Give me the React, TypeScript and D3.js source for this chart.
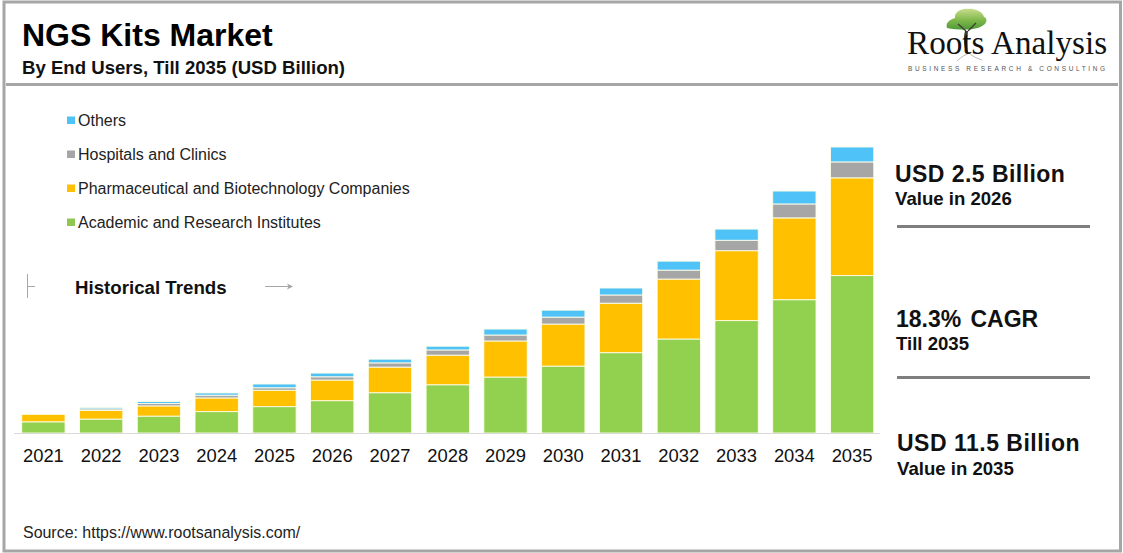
import React from "react";
import * as d3 from "d3";

const years = ["2021","2022","2023","2024","2025","2026","2027","2028","2029","2030","2031","2032","2033","2034","2035"];
const academic = [0.45,0.56,0.68,0.86,1.06,1.30,1.62,1.94,2.25,2.69,3.23,3.78,4.52,5.36,6.33];
const pharma = [0.30,0.35,0.41,0.55,0.66,0.83,1.03,1.19,1.45,1.69,1.99,2.41,2.81,3.29,3.93];
const hospitals = [0,0.06,0.10,0.11,0.10,0.13,0.17,0.21,0.24,0.28,0.33,0.36,0.42,0.56,0.64];
const others = [0,0.06,0.08,0.09,0.15,0.15,0.15,0.15,0.24,0.28,0.28,0.36,0.45,0.52,0.60];

const seriesKeys = ["Academic and Research Institutes","Pharmaceutical and Biotechnology Companies","Hospitals and Clinics","Others"];
const seriesValues = [academic, pharma, hospitals, others];
const seriesColors = ["#92d050","#ffc000","#a6a6a6","#4fc3f7"];
const legendOrder = [3,2,1,0];
const legendColors = ["#8fc751","#ffc000","#a6a6a6","#4fc3f7"];

const rows = years.map((y,i)=>{
  const r: Record<string, number|string> = {year:y};
  seriesKeys.forEach((k,j)=>{ r[k]=seriesValues[j][i]; });
  return r;
});

const SANS = "'Liberation Sans', Arial, sans-serif";

export default function App(){
  const x = d3.scaleBand().domain(years).range([14.5,881]).paddingInner(0.25).paddingOuter(0.125);
  const y = d3.scaleLinear().domain([0,11.5]).range([433,147]);
  const stacked = d3.stack<any>().keys(seriesKeys)(rows);
  return (
    <svg width={1123} height={553} viewBox="0 0 1123 553" style={{position:"absolute",left:0,top:0,display:"block",background:"#fff"}} fontFamily={SANS}>
      <defs>
        <linearGradient id="treeG" x1="0" y1="0" x2="0" y2="1">
          <stop offset="0" stopColor="#c9dc8c"/>
          <stop offset="0.55" stopColor="#7fb84a"/>
          <stop offset="1" stopColor="#4f9a3a"/>
        </linearGradient>
      </defs>
      {/* frame */}
      <rect x={4} y={2} width={1116.5} height={549} fill="none" stroke="#a6a6a6" strokeWidth={3}/>
      <line x1={6} x2={1118} y1={84.5} y2={84.5} stroke="#a6a6a6" strokeWidth={3}/>

      {/* titles */}
      <text x={22} y={46} fontSize={32} fontWeight={700} fill="#000">NGS Kits Market</text>
      <text x={22} y={74} fontSize={18.6} fontWeight={700} fill="#111">By End Users, Till 2035 (USD Billion)</text>

      {/* logo */}
      <g>
        <path d="M965 31 C963 38 964 46 966 52 L968 52 C967 46 967 38 968 31 Z" fill="#3c3c2c"/>
        <path d="M947 28 C945 22 951 19 955 18 C954 12 962 8 968 9 C975 8 983 12 984 17 C988 18 987 24 982 26 C974 31 958 30 947 28 Z" fill="url(#treeG)"/>
        <path d="M958 24 L966 31 M976 23 L968 31" stroke="#3c3c2c" strokeWidth={1.2} fill="none"/>
        <path d="M957 61 C962 56 966 55 969 53 C972 56 976 58 982 60" stroke="#b9b9b0" strokeWidth={1} fill="none"/>
        <text x={907} y={54} fontFamily="'Liberation Serif', serif" fontSize={33.2} fill="#111">Roots Analysis</text>
        <text x={908} y={71} fontSize={6.5} letterSpacing={2.63} fill="#555">BUSINESS RESEARCH &amp; CONSULTING</text>
      </g>

      {/* legend */}
      {legendOrder.map((s,i)=>(
        <g key={s}>
          <rect x={67} y={116.5+i*34} width={8} height={7.5} fill={legendColors[s]}/>
          <text x={78} y={125.5+i*34} fontSize={16} fill="#222">{seriesKeys[s]}</text>
        </g>
      ))}

      {/* historical */}
      <line x1={27.5} x2={27.5} y1={274} y2={298} stroke="#a6a6a6" strokeWidth={1}/>
      <line x1={27.5} x2={35} y1={286.5} y2={286.5} stroke="#a6a6a6" strokeWidth={1}/>
      <text x={75} y={294} fontSize={18.7} fontWeight={700} fill="#111">Historical Trends</text>
      <line x1={265} x2={292} y1={286.5} y2={286.5} stroke="#a6a6a6" strokeWidth={1}/>
      <path d="M287 283.5 L293 286.5 L287 289.5 L288.5 286.5 Z" fill="#a6a6a6"/>

      {/* bars */}
      {stacked.map((layer,s)=>(
        <g key={layer.key} fill={seriesColors[s]}>
          {layer.map((d,i)=>{
            const h = y(d[0])-y(d[1]);
            if(h<=0) return null;
            return <rect key={i} x={x(years[i])} y={y(d[1])} width={x.bandwidth()} height={h} stroke="#fdfde8" strokeWidth={0.9} paintOrder="fill"/>;
          })}
        </g>
      ))}
      <line x1={14} x2={880} y1={433.5} y2={433.5} stroke="#d9d9d9" strokeWidth={1}/>
      {years.map(v=>(
        <text key={v} x={x(v)!+x.bandwidth()/2} y={461.5} fontSize={18.4} textAnchor="middle" fill="#111">{v}</text>
      ))}

      {/* right panel */}
      <text x={895} y={182} fontSize={23} fontWeight={700} letterSpacing={0.45} fill="#111">USD 2.5 Billion</text>
      <text x={895} y={205} fontSize={18.6} fontWeight={700} fill="#111">Value in 2026</text>
      <line x1={897} x2={1090} y1={226.5} y2={226.5} stroke="#7f7f7f" strokeWidth={3}/>
      <text x={896} y={327} fontSize={23} fontWeight={700} fill="#111">18.3%</text>
      <text x={970.5} y={327} fontSize={23} fontWeight={700} fill="#111">CAGR</text>
      <text x={896} y={350} fontSize={18.6} fontWeight={700} fill="#111">Till 2035</text>
      <line x1={897} x2={1090} y1={377.5} y2={377.5} stroke="#7f7f7f" strokeWidth={3}/>
      <text x={897} y={451} fontSize={23} fontWeight={700} letterSpacing={0.5} fill="#111">USD 11.5 Billion</text>
      <text x={897} y={475} fontSize={18.6} fontWeight={700} fill="#111">Value in 2035</text>

      <text x={23} y={538} fontSize={15.95} fill="#222">Source: https://www.rootsanalysis.com/</text>
    </svg>
  );
}
